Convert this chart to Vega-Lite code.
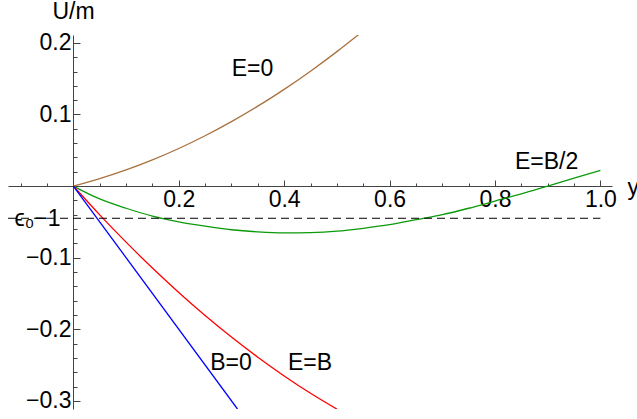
{
  "$schema": "https://vega.github.io/schema/vega-lite/v6.json",
  "width": 604,
  "height": 374,
  "autosize": {"type": "none"},
  "padding": {"left": 8, "top": 35, "right": 25, "bottom": 10},
  "background": "white",
  "config": {
    "view": {"stroke": null},
    "axis": {
      "labelFont": "Liberation Sans",
      "titleFont": "Liberation Sans",
      "labelFontSize": 23,
      "titleFontSize": 23,
      "labelColor": "black",
      "titleColor": "black",
      "titleFontWeight": "normal",
      "domainColor": "#444444",
      "tickColor": "#444444",
      "grid": false,
      "labelFlush": false,
      "labelOverlap": false,
      "labelBound": false
    }
  },
  "datasets": {
    "curves": [
      {"curve": "E=0", "pos": 0, "U": 0},
      {"curve": "E=0", "pos": 0.05, "U": 0.0103},
      {"curve": "E=0", "pos": 0.1, "U": 0.0225},
      {"curve": "E=0", "pos": 0.15, "U": 0.0365},
      {"curve": "E=0", "pos": 0.2, "U": 0.0525},
      {"curve": "E=0", "pos": 0.25, "U": 0.0703},
      {"curve": "E=0", "pos": 0.3, "U": 0.09},
      {"curve": "E=0", "pos": 0.35, "U": 0.1116},
      {"curve": "E=0", "pos": 0.4, "U": 0.1351},
      {"curve": "E=0", "pos": 0.45, "U": 0.1605},
      {"curve": "E=0", "pos": 0.5, "U": 0.1878},
      {"curve": "E=0", "pos": 0.5426, "U": 0.2124},
      {"curve": "E=B/2", "pos": 0, "U": 0},
      {"curve": "E=B/2", "pos": 0.05, "U": -0.018},
      {"curve": "E=B/2", "pos": 0.1, "U": -0.031},
      {"curve": "E=B/2", "pos": 0.15, "U": -0.042},
      {"curve": "E=B/2", "pos": 0.2, "U": -0.05},
      {"curve": "E=B/2", "pos": 0.25, "U": -0.056},
      {"curve": "E=B/2", "pos": 0.3, "U": -0.061},
      {"curve": "E=B/2", "pos": 0.35, "U": -0.064},
      {"curve": "E=B/2", "pos": 0.4, "U": -0.0655},
      {"curve": "E=B/2", "pos": 0.45, "U": -0.065},
      {"curve": "E=B/2", "pos": 0.5, "U": -0.063},
      {"curve": "E=B/2", "pos": 0.55, "U": -0.059},
      {"curve": "E=B/2", "pos": 0.6, "U": -0.054},
      {"curve": "E=B/2", "pos": 0.65, "U": -0.047},
      {"curve": "E=B/2", "pos": 0.7, "U": -0.04},
      {"curve": "E=B/2", "pos": 0.75, "U": -0.031},
      {"curve": "E=B/2", "pos": 0.8, "U": -0.021},
      {"curve": "E=B/2", "pos": 0.85, "U": -0.011},
      {"curve": "E=B/2", "pos": 0.9, "U": 0.0},
      {"curve": "E=B/2", "pos": 0.95, "U": 0.011},
      {"curve": "E=B/2", "pos": 1.0, "U": 0.022},
      {"curve": "E=B", "pos": 0, "U": 0},
      {"curve": "E=B", "pos": 0.05, "U": -0.0402},
      {"curve": "E=B", "pos": 0.1, "U": -0.0783},
      {"curve": "E=B", "pos": 0.15, "U": -0.1145},
      {"curve": "E=B", "pos": 0.2, "U": -0.1486},
      {"curve": "E=B", "pos": 0.25, "U": -0.1808},
      {"curve": "E=B", "pos": 0.3, "U": -0.2109},
      {"curve": "E=B", "pos": 0.35, "U": -0.2391},
      {"curve": "E=B", "pos": 0.4, "U": -0.2652},
      {"curve": "E=B", "pos": 0.45, "U": -0.2894},
      {"curve": "E=B", "pos": 0.5, "U": -0.3115},
      {"curve": "B=0", "pos": 0, "U": 0},
      {"curve": "B=0", "pos": 0.3114, "U": -0.3114}
    ],
    "dashed": [
      {"x1": -0.124, "x2": 1.0, "U": -0.045}
    ],
    "labels": [
      {"label": "E=0", "pos": 0.34, "U": 0.163},
      {"label": "E=B/2", "pos": 0.898, "U": 0.033},
      {"label": "B=0", "pos": 0.299, "U": -0.247},
      {"label": "E=B", "pos": 0.449, "U": -0.247}
    ]
  },
  "layer": [
    {
      "data": {"name": "curves"},
      "mark": {"type": "line", "strokeWidth": 1.3, "interpolate": "monotone", "clip": true},
      "encoding": {
        "x": {
          "field": "pos",
          "type": "quantitative",
          "scale": {"domain": [-0.124, 1.022], "nice": false, "zero": false},
          "axis": {
            "orient": "bottom",
            "offset": -223,
            "values": [0.2, 0.4, 0.6, 0.8, 1.0],
            "format": ".1f",
            "tickSize": -6,
            "labelPadding": 8,
            "title": "y",
            "titleX": 619,
            "titleY": 8,
            "titleAlign": "left",
            "titleBaseline": "alphabetic"
          }
        },
        "y": {
          "field": "U",
          "type": "quantitative",
          "scale": {"domain": [-0.3114, 0.211], "nice": false, "zero": false},
          "axis": {
            "orient": "left",
            "offset": -65,
            "values": [-0.3, -0.2, -0.1, 0.1, 0.2],
            "format": ".1f",
            "tickSize": -7,
            "labelPadding": 9,
            "title": "U/m",
            "titleAngle": 0,
            "titleX": 0,
            "titleY": -17,
            "titleAlign": "center",
            "titleBaseline": "alphabetic"
          }
        },
        "color": {
          "field": "curve",
          "type": "nominal",
          "scale": {"domain": ["E=0", "E=B/2", "E=B", "B=0"], "range": ["#a8723e", "#0a9a0a", "#ff0000", "#0000ff"]},
          "legend": null
        }
      }
    },
    {
      "data": {"name": "dashed"},
      "mark": {"type": "rule", "strokeDash": [8, 5], "color": "black", "strokeWidth": 1},
      "encoding": {
        "x": {
          "field": "x1",
          "type": "quantitative",
          "axis": {
            "orient": "bottom",
            "offset": -223,
            "values": [-0.1, -0.05, 0.05, 0.1, 0.15, 0.25, 0.3, 0.35, 0.45, 0.5, 0.55, 0.65, 0.7, 0.75, 0.85, 0.9, 0.95],
            "labels": false,
            "domain": false,
            "tickSize": -3,
            "title": null
          }
        },
        "x2": {"field": "x2"},
        "y": {
          "field": "U",
          "type": "quantitative",
          "axis": {
            "orient": "left",
            "offset": -65,
            "values": [-0.28, -0.26, -0.24, -0.22, -0.18, -0.16, -0.14, -0.12, -0.08, -0.06, -0.04, -0.02, 0.02, 0.04, 0.06, 0.08, 0.12, 0.14, 0.16, 0.18],
            "labels": false,
            "domain": false,
            "tickSize": -4,
            "title": null
          }
        }
      }
    },
    {
      "data": {"name": "labels"},
      "mark": {"type": "text", "font": "Liberation Sans", "fontSize": 23, "align": "center", "baseline": "middle", "color": "black"},
      "encoding": {
        "x": {"field": "pos", "type": "quantitative", "axis": null},
        "y": {
          "field": "U",
          "type": "quantitative",
          "axis": {
            "orient": "left",
            "offset": -65,
            "values": [-0.045],
            "labelExpr": "'ϵ₀−1'",
            "ticks": false,
            "domain": false,
            "labelPadding": 13,
            "title": null
          }
        },
        "text": {"field": "label", "type": "nominal"}
      }
    }
  ],
  "resolve": {"axis": {"x": "independent", "y": "independent"}}
}
